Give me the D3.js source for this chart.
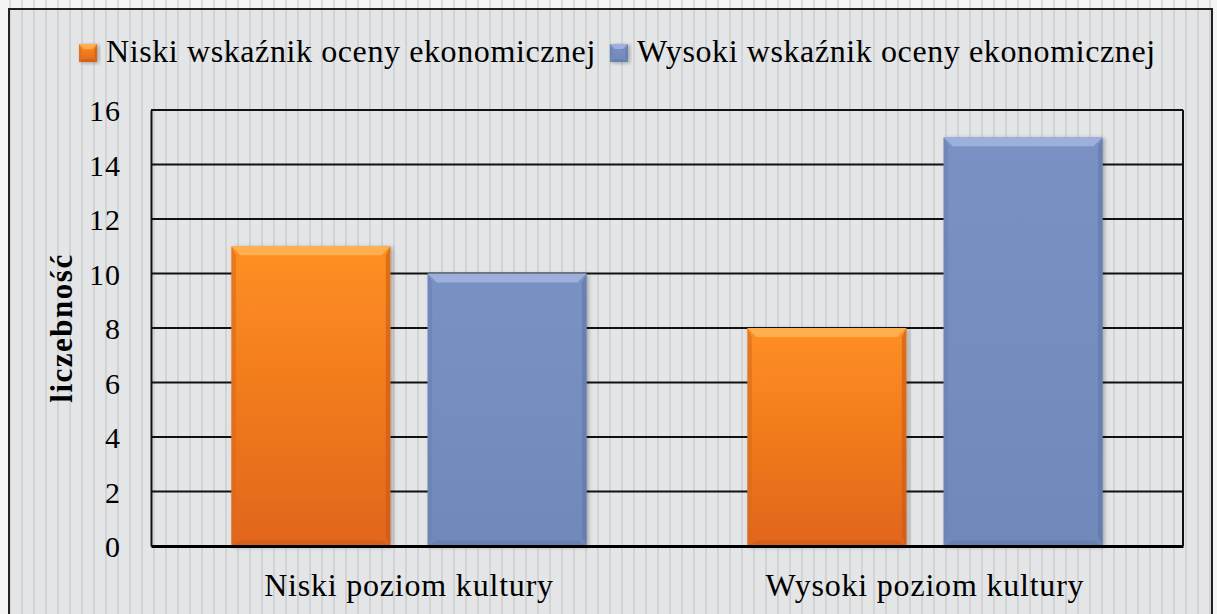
<!DOCTYPE html>
<html>
  <head>
    <meta charset="utf-8" />
    <script src="https://d3js.org/d3.v7.min.js"></script>
  </head>
  <style>
    body { margin: 0; background: #ffffff; }
    text { font-family: "Liberation Serif", "DejaVu Serif", serif; fill: #000; }
  </style>
  <body>
    <div id="chart"></div>
    <script>

    // data
    var categories = ["Niski poziom kultury", "Wysoki poziom kultury"];
    var seriesNames = ["Niski wskaźnik oceny ekonomicznej", "Wysoki wskaźnik oceny ekonomicznej"];
    var lowValues = [11, 8];
    var highValues = [10, 15];
    var yTicks = [0, 2, 4, 6, 8, 10, 12, 14, 16];
    var yTitle = "liczebność";

    var width = 1217, height = 614;
    var plot = { left: 151, top: 110, right: 1183, bottom: 546 };

    var svg = d3.select("#chart").append("svg")
        .attr("width", width)
        .attr("height", height);

    var defs = svg.append("defs");

    // striped background pattern
    function stripes(id, bg, line) {
      var p = defs.append("pattern")
          .attr("id", id)
          .attr("patternUnits", "userSpaceOnUse")
          .attr("width", 12).attr("height", 12);
      p.append("rect").attr("width", 12).attr("height", 12).attr("fill", bg);
      p.append("rect").attr("x", 9).attr("width", 2).attr("height", 12).attr("fill", line);
    }
    stripes("outerStripes", "#f4f4f5", "#dcdcde");
    stripes("innerStripes", "#e4e5e7", "#d2d3d5");

    // bar gradients
    var palettes = [
      { id: "gOrange", top: "#ff8f22", bottom: "#e2651a", light: "#ffb860", dark: "#c75a16", edge: "#d96a1a" },
      { id: "gBlue", top: "#7a91c3", bottom: "#7089bb", light: "#a9bbe3", dark: "#5f76a6", edge: "#6a80b2" }
    ];
    palettes.forEach(function(c) {
      var g = defs.append("linearGradient").attr("id", c.id)
          .attr("x1", 0).attr("y1", 0).attr("x2", 0).attr("y2", 1);
      g.append("stop").attr("offset", "0%").attr("stop-color", c.top);
      g.append("stop").attr("offset", "100%").attr("stop-color", c.bottom);
    });

    var shadow = defs.append("filter").attr("id", "shadow")
        .attr("x", "-10%").attr("y", "-10%").attr("width", "130%").attr("height", "130%");
    shadow.append("feDropShadow").attr("dx", 2).attr("dy", 1).attr("stdDeviation", 2)
        .attr("flood-color", "#000").attr("flood-opacity", 0.3);

    svg.append("rect").attr("width", width).attr("height", height).attr("fill", "url(#outerStripes)");
    svg.append("rect")
        .attr("x", 9).attr("y", 9)
        .attr("width", 1203).attr("height", 620)
        .attr("fill", "url(#innerStripes)")
        .attr("stroke", "#222").attr("stroke-width", 2);

    // scales
    var x0 = d3.scaleBand().domain(categories).range([plot.left, plot.right]);
    var x1 = d3.scaleBand().domain([0, 1]).range([0, x0.bandwidth()]).paddingInner(0.19).paddingOuter(0.41);
    var y = d3.scaleLinear().domain([0, 16]).range([plot.bottom, plot.top]);

    // gridlines
    svg.append("g").selectAll("line")
        .data(yTicks.filter(function(d) { return d > 0; }))
        .enter().append("line")
          .attr("x1", plot.left).attr("x2", plot.right)
          .attr("y1", function(d) { return y(d); })
          .attr("y2", function(d) { return y(d); })
          .attr("stroke", "#111").attr("stroke-width", 2);

    svg.append("line")
        .attr("x1", plot.right).attr("x2", plot.right)
        .attr("y1", plot.top).attr("y2", plot.bottom)
        .attr("stroke", "#111").attr("stroke-width", 2);

    // bars
    var rows = [];
    categories.forEach(function(c, i) {
      rows.push({ cat: c, s: 0, v: lowValues[i] });
      rows.push({ cat: c, s: 1, v: highValues[i] });
    });

    function bevelBar(g, bx, by, bw, bh, c, b) {
      g.append("rect").attr("x", bx).attr("y", by).attr("width", bw).attr("height", bh)
          .attr("fill", "url(#" + c.id + ")").attr("filter", "url(#shadow)");
      // top bevel
      g.append("path")
          .attr("d", "M" + bx + "," + by + "H" + (bx + bw) + "L" + (bx + bw - b) + "," + (by + b) + "H" + (bx + b) + "Z")
          .attr("fill", c.light).attr("opacity", 0.75);
      // left / right
      g.append("path")
          .attr("d", "M" + bx + "," + by + "L" + (bx + b * 0.5) + "," + (by + b) + "V" + (by + bh - b) + "L" + bx + "," + (by + bh) + "Z")
          .attr("fill", c.edge).attr("opacity", 0.6);
      g.append("path")
          .attr("d", "M" + (bx + bw) + "," + by + "L" + (bx + bw - b * 0.5) + "," + (by + b) + "V" + (by + bh - b) + "L" + (bx + bw) + "," + (by + bh) + "Z")
          .attr("fill", c.dark).attr("opacity", 0.6);
      // bottom
      g.append("path")
          .attr("d", "M" + bx + "," + (by + bh) + "H" + (bx + bw) + "L" + (bx + bw - b) + "," + (by + bh - b * 0.6) + "H" + (bx + b) + "Z")
          .attr("fill", c.dark).attr("opacity", 0.5);
    }

    var bars = svg.append("g");
    rows.forEach(function(d) {
      var bx = x0(d.cat) + x1(d.s);
      var by = y(d.v);
      bevelBar(bars, bx, by, x1.bandwidth(), y(0) - by, palettes[d.s], 9);
    });

    // y axis
    var yAxis = svg.append("g")
        .attr("transform", "translate(" + plot.left + ",0)")
        .call(d3.axisLeft(y).tickValues(yTicks).tickSize(0).tickPadding(30));
    yAxis.select(".domain").attr("stroke", "#111").attr("stroke-width", 2);
    yAxis.selectAll("text")
        .attr("font-size", 30)
        .attr("letter-spacing", 1)
        .attr("dy", "0.36em");

    // x axis
    var xAxis = svg.append("g")
        .attr("transform", "translate(0," + plot.bottom + ")")
        .call(d3.axisBottom(x0).tickSize(0).tickPadding(27));
    xAxis.select(".domain").attr("stroke", "#000").attr("stroke-width", 3);
    xAxis.selectAll("text")
        .attr("font-size", 32)
        .attr("letter-spacing", 0.8);

    // y title
    svg.append("text")
        .attr("transform", "translate(72," + ((plot.top + plot.bottom) / 2) + ") rotate(-90)")
        .attr("text-anchor", "middle")
        .attr("font-size", 31)
        .attr("font-weight", "bold")
        .attr("letter-spacing", 1.5)
        .text(yTitle);

    // legend, items laid out one after another
    var legend = svg.append("g");
    var lx = 79;
    seriesNames.forEach(function(name, i) {
      bevelBar(legend, lx, 44, 18, 18, palettes[i], 5);
      var t = legend.append("text")
          .attr("x", lx + 27)
          .attr("y", 62)
          .attr("font-size", 32)
          .attr("letter-spacing", 0.6)
          .text(name);
      lx = lx + 27 + t.node().getComputedTextLength() + 14;
    });

    </script>
  </body>
</html>
